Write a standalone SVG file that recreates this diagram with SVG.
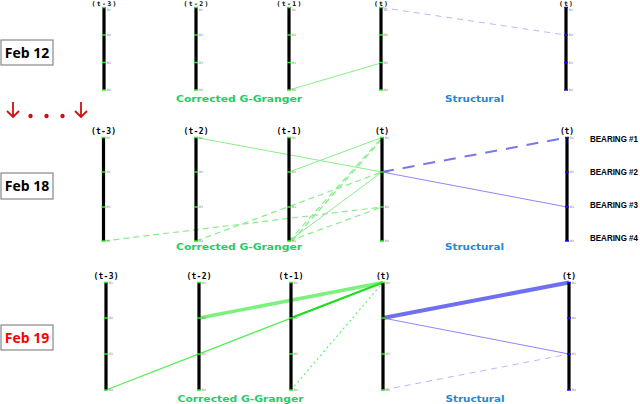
<svg xmlns="http://www.w3.org/2000/svg" width="640" height="404" viewBox="0 0 640 404">
<style>
.bar{stroke:#000;stroke-width:3.2}
.tg{stroke:#22ee22;stroke-width:1.6}
.tb{stroke:#1010ff;stroke-width:1.6}
.nl{font-family:"DejaVu Sans",sans-serif;font-size:3px;fill:#777}
.cl{font-family:"DejaVu Sans Mono",monospace;font-weight:bold;font-size:8px;fill:#000}
.ct{font-family:"DejaVu Sans Mono",monospace;font-weight:bold;font-size:6.5px;fill:#000}
.gr{font-family:"DejaVu Sans",sans-serif;font-weight:bold;font-size:8px;fill:#22cc66}
.st{font-family:"DejaVu Sans",sans-serif;font-weight:bold;font-size:8px;fill:#2288dd}
.box{fill:#fff;stroke:#888;stroke-width:1.2}
.dt{font-family:"Open Sans","Liberation Sans",sans-serif;font-weight:bold;font-size:14px}
.br{font-family:"Liberation Sans",sans-serif;font-weight:bold;font-size:8px;fill:#000}
.g1{stroke:#88ee88;stroke-width:1;fill:none}
.gd{stroke:#88ee88;stroke-width:1.2;fill:none;stroke-dasharray:6,4}
.b1{stroke:#8888ff;stroke-width:1;fill:none}
.bd{stroke:#b8b8ff;stroke-width:1;fill:none;stroke-dasharray:6,5}
</style>

<!-- left labels -->
<g id="feb12"><rect class="box" x="1" y="40" width="52" height="25"/><text class="dt" x="27" y="58" text-anchor="middle" fill="#000">Feb 12</text></g>
<g id="feb18"><rect class="box" x="1" y="173" width="52" height="26"/><text class="dt" x="27" y="191" text-anchor="middle" fill="#000">Feb 18</text></g>
<g id="feb19"><rect class="box" x="1" y="325" width="52" height="25"/><text class="dt" x="27" y="343" text-anchor="middle" fill="#ff0000">Feb 19</text></g>
<g id="ellipsis" fill="#cc1111" stroke="#cc1111">
<path d="M13 102 V117 M7 111 L13 117 L19 111" stroke-width="1.8" fill="none"/>
<path d="M81 102 V117 M75 111 L81 117 L87 111" stroke-width="1.8" fill="none"/>
<circle cx="30.5" cy="116" r="2.2" stroke="none"/>
<circle cx="46.5" cy="116" r="2.2" stroke="none"/>
<circle cx="62.5" cy="116" r="2.2" stroke="none"/>
</g>

<!-- bearing labels -->
<g id="bearings">
<text class="br" transform="translate(590,142) scale(1,1.2)">BEARING #1</text>
<text class="br" transform="translate(590,175) scale(1,1.2)">BEARING #2</text>
<text class="br" transform="translate(590,208) scale(1,1.2)">BEARING #3</text>
<text class="br" transform="translate(590,241) scale(1,1.2)">BEARING #4</text>
</g>

<!-- connectors -->
<g id="connectors">
<!-- top -->
<line class="g1" x1="289" y1="90" x2="381" y2="63"/>
<line class="bd" x1="381" y1="7.5" x2="566" y2="35"/>
<!-- middle -->
<line class="g1" x1="196" y1="137.5" x2="382" y2="172"/>
<line class="g1" x1="289" y1="172" x2="382" y2="137.5"/>
<line class="g1" x1="289" y1="241" x2="382" y2="172"/>
<line class="gd" x1="289" y1="241" x2="382" y2="137.5"/>
<line class="gd" x1="292" y1="241" x2="382" y2="139"/>
<line class="gd" x1="289" y1="241" x2="382" y2="207"/>
<line class="gd" x1="196" y1="241" x2="382" y2="172"/>
<line class="gd" x1="103.5" y1="241" x2="382" y2="207"/>
<line stroke="#7777ee" stroke-width="2" stroke-dasharray="12,9" x1="382" y1="172" x2="567" y2="137.5"/>
<line class="b1" x1="382" y1="172" x2="567" y2="207"/>
<!-- bottom -->
<line stroke="#66ee66" stroke-opacity="0.85" stroke-width="3.5" x1="199" y1="318" x2="383" y2="282.5"/>
<line stroke="#55ee55" stroke-width="1.3" x1="106" y1="390" x2="383" y2="282.5"/>
<line stroke="#22dd22" stroke-width="2.4" x1="291" y1="318" x2="383" y2="282.5"/>
<line stroke="#66ee66" stroke-width="1.2" stroke-dasharray="2,3" x1="291" y1="390" x2="383" y2="282.5"/>
<line stroke="#6f6ff2" stroke-width="4" x1="383" y1="318" x2="569" y2="282.5"/>
<line class="b1" x1="383" y1="318" x2="569" y2="354"/>
<line class="bd" x1="383" y1="390" x2="569" y2="354"/>
</g>

<!-- top panel columns -->
<g id="top-t3"><line class="bar" x1="104" y1="7.5" x2="104" y2="90"/>
<path class="tg" d="M102 7.5h4M102 35h4M102 62.5h4M102 90h4"/>
<text class="ct" x="104" y="5.5" text-anchor="middle" textLength="25">(t-3)</text>
<g class="nl"><text x="107" y="11">B1</text><text x="107" y="36">B2</text><text x="107" y="63.5">B3</text><text x="107" y="91">B4</text></g></g>
<g id="top-t2"><line class="bar" x1="196" y1="7.5" x2="196" y2="90"/>
<path class="tg" d="M194 7.5h4M194 35h4M194 62.5h4M194 90h4"/>
<text class="ct" x="196" y="5.5" text-anchor="middle" textLength="25">(t-2)</text>
<g class="nl"><text x="199" y="11">B1</text><text x="199" y="36">B2</text><text x="199" y="63.5">B3</text><text x="199" y="91">B4</text></g></g>
<g id="top-t1"><line class="bar" x1="289" y1="7.5" x2="289" y2="90"/>
<path class="tg" d="M287 7.5h4M287 35h4M287 62.5h4M287 90h4"/>
<text class="ct" x="289" y="5.5" text-anchor="middle" textLength="25">(t-1)</text>
<g class="nl"><text x="292" y="11">B1</text><text x="292" y="36">B2</text><text x="292" y="63.5">B3</text><text x="292" y="91">B4</text></g></g>
<g id="top-t"><line class="bar" x1="381" y1="7.5" x2="381" y2="90"/>
<path class="tg" d="M379 7.5h4M379 35h4M379 62.5h4M379 90h4"/>
<text class="ct" x="381" y="5.5" text-anchor="middle" textLength="14">(t)</text>
<g class="nl"><text x="384" y="11">B1</text><text x="384" y="36">B2</text><text x="384" y="63.5">B3</text><text x="384" y="91">B4</text></g></g>
<g id="top-ts"><line class="bar" x1="566" y1="7.5" x2="566" y2="90"/>
<path class="tb" d="M564 7.5h4M564 35h4M564 62.5h4M564 90h4"/>
<text class="ct" x="566" y="5.5" text-anchor="middle" textLength="14">(t)</text>
<g class="nl"><text x="569" y="11">B1</text><text x="569" y="36">B2</text><text x="569" y="63.5">B3</text><text x="569" y="91">B4</text></g></g>
<text class="gr" x="239" y="102" text-anchor="middle" textLength="126" lengthAdjust="spacingAndGlyphs">Corrected G-Granger</text>
<text class="st" x="474.5" y="102" text-anchor="middle" textLength="59" lengthAdjust="spacingAndGlyphs">Structural</text>

<!-- middle panel columns -->
<g id="mid-t3"><line class="bar" x1="103.5" y1="137.5" x2="103.5" y2="241"/>
<path class="tg" d="M101.5 137.5h4M101.5 172h4M101.5 207h4M101.5 241h4"/>
<text class="cl" x="103.5" y="133.5" text-anchor="middle" textLength="25">(t-3)</text>
<g class="nl"><text x="106.5" y="138.5">B1</text><text x="106.5" y="173">B2</text><text x="106.5" y="208">B3</text><text x="106.5" y="242">B4</text></g></g>
<g id="mid-t2"><line class="bar" x1="196" y1="137.5" x2="196" y2="241"/>
<path class="tg" d="M194 137.5h4M194 172h4M194 207h4M194 241h4"/>
<text class="cl" x="196" y="133.5" text-anchor="middle" textLength="25">(t-2)</text>
<g class="nl"><text x="199" y="138.5">B1</text><text x="199" y="173">B2</text><text x="199" y="208">B3</text><text x="199" y="242">B4</text></g></g>
<g id="mid-t1"><line class="bar" x1="289" y1="137.5" x2="289" y2="241"/>
<path class="tg" d="M287 137.5h4M287 172h4M287 207h4M287 241h4"/>
<text class="cl" x="289" y="133.5" text-anchor="middle" textLength="25">(t-1)</text>
<g class="nl"><text x="292" y="138.5">B1</text><text x="292" y="173">B2</text><text x="292" y="208">B3</text><text x="292" y="242">B4</text></g></g>
<g id="mid-t"><line class="bar" x1="382" y1="137.5" x2="382" y2="241"/>
<path class="tg" d="M380 137.5h4M380 172h4M380 207h4M380 241h4"/>
<text class="cl" x="382" y="133.5" text-anchor="middle" textLength="14">(t)</text>
<g class="nl"><text x="385" y="138.5">B1</text><text x="385" y="173">B2</text><text x="385" y="208">B3</text><text x="385" y="242">B4</text></g></g>
<g id="mid-ts"><line class="bar" x1="567" y1="137.5" x2="567" y2="241"/>
<path class="tb" d="M565 137.5h4M565 172h4M565 207h4M565 241h4"/>
<text class="cl" x="567" y="133.5" text-anchor="middle" textLength="14">(t)</text>
<g class="nl"><text x="570" y="138.5">B1</text><text x="570" y="173">B2</text><text x="570" y="208">B3</text><text x="570" y="242">B4</text></g></g>
<text class="gr" x="239" y="250" text-anchor="middle" textLength="126" lengthAdjust="spacingAndGlyphs">Corrected G-Granger</text>
<text class="st" x="474.5" y="250" text-anchor="middle" textLength="59" lengthAdjust="spacingAndGlyphs">Structural</text>

<!-- bottom panel columns -->
<g id="bot-t3"><line class="bar" x1="106" y1="282.5" x2="106" y2="390"/>
<path class="tg" d="M104 282.5h4M104 318h4M104 354h4M104 390h4"/>
<text class="cl" x="106" y="278.5" text-anchor="middle" textLength="25">(t-3)</text>
<g class="nl"><text x="109" y="283.5">B1</text><text x="109" y="319">B2</text><text x="109" y="355">B3</text><text x="109" y="391">B4</text></g></g>
<g id="bot-t2"><line class="bar" x1="199" y1="282.5" x2="199" y2="390"/>
<path class="tg" d="M197 282.5h4M197 318h4M197 354h4M197 390h4"/>
<text class="cl" x="199" y="278.5" text-anchor="middle" textLength="25">(t-2)</text>
<g class="nl"><text x="202" y="283.5">B1</text><text x="202" y="319">B2</text><text x="202" y="355">B3</text><text x="202" y="391">B4</text></g></g>
<g id="bot-t1"><line class="bar" x1="291" y1="282.5" x2="291" y2="390"/>
<path class="tg" d="M289 282.5h4M289 318h4M289 354h4M289 390h4"/>
<text class="cl" x="291" y="278.5" text-anchor="middle" textLength="25">(t-1)</text>
<g class="nl"><text x="294" y="283.5">B1</text><text x="294" y="319">B2</text><text x="294" y="355">B3</text><text x="294" y="391">B4</text></g></g>
<g id="bot-t"><line class="bar" x1="383" y1="282.5" x2="383" y2="390"/>
<path class="tg" d="M381 282.5h4M381 318h4M381 354h4M381 390h4"/>
<text class="cl" x="383" y="278.5" text-anchor="middle" textLength="14">(t)</text>
<g class="nl"><text x="386" y="283.5">B1</text><text x="386" y="319">B2</text><text x="386" y="355">B3</text><text x="386" y="391">B4</text></g></g>
<g id="bot-ts"><line class="bar" x1="569" y1="282.5" x2="569" y2="390"/>
<path class="tb" d="M567 282.5h4M567 318h4M567 354h4M567 390h4"/>
<text class="cl" x="569" y="278.5" text-anchor="middle" textLength="14">(t)</text>
<g class="nl"><text x="572" y="283.5">B1</text><text x="572" y="319">B2</text><text x="572" y="355">B3</text><text x="572" y="391">B4</text></g></g>
<text class="gr" x="240.5" y="402" text-anchor="middle" textLength="126" lengthAdjust="spacingAndGlyphs">Corrected G-Granger</text>
<text class="st" x="475" y="402" text-anchor="middle" textLength="59" lengthAdjust="spacingAndGlyphs">Structural</text>
</svg>
